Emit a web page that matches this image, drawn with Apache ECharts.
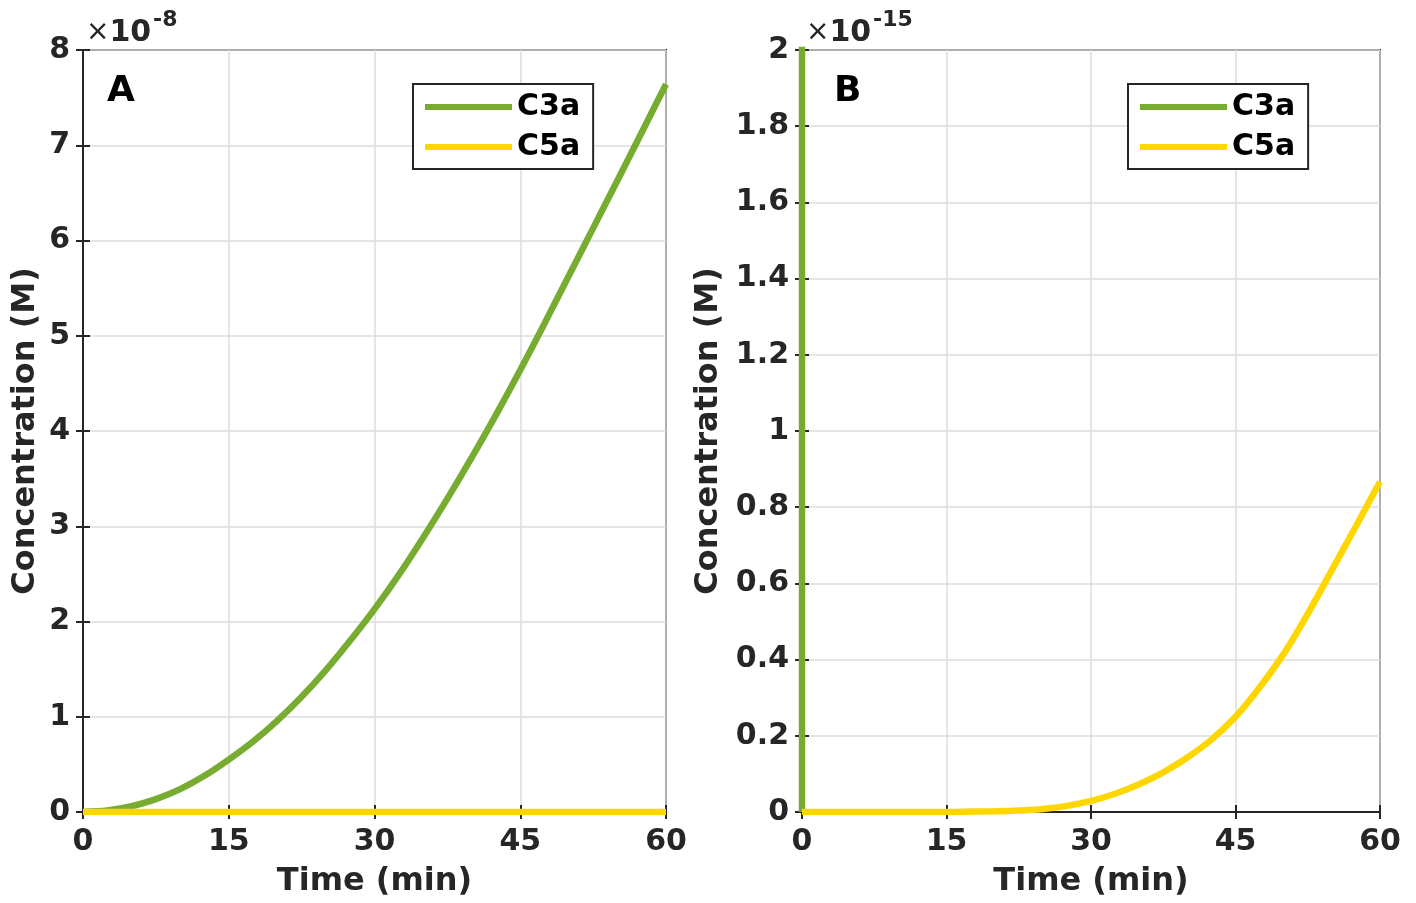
<!DOCTYPE html>
<html>
<head>
<meta charset="utf-8">
<script src="https://cdn.jsdelivr.net/npm/echarts@6/dist/echarts.min.js"></script>
<style>
  html, body { margin: 0; padding: 0; background: #fff; overflow: hidden; width: 100%; height: 100%; }
  #main { width: 100vw; height: 100vh; display: block; }
</style>
</head>
<body>
<div id="main"></div>
<script>
// time axis (min)
var time = [0, 2.5, 5, 7.5, 10, 12.5, 15, 17.5, 20, 22.5, 25, 27.5, 30,
            32.5, 35, 37.5, 40, 42.5, 45, 47.5, 50, 52.5, 55, 57.5, 60];
// C3a, in units of 1e-8 M (panel A)
var c3a = [0, 0.015, 0.06, 0.135, 0.24, 0.38, 0.55, 0.74, 0.96, 1.21, 1.49, 1.80, 2.13,
           2.49, 2.88, 3.29, 3.72, 4.17, 4.64, 5.13, 5.63, 6.13, 6.63, 7.135, 7.64];
// C5a, in units of 1e-15 M (panel B)
var c5a = [0, 0, 0, 0, 0, 0, 0, 0.001, 0.002, 0.004, 0.008, 0.016, 0.029,
           0.048, 0.073, 0.104, 0.143, 0.19, 0.25, 0.327, 0.415, 0.52, 0.635, 0.75, 0.867];

var xTicks = [0, 15, 30, 45, 60];
var yTicksA = [0, 1, 2, 3, 4, 5, 6, 7, 8];
var yTicksB = [0, 0.2, 0.4, 0.6, 0.8, 1, 1.2, 1.4, 1.6, 1.8, 2];

var GREEN = '#77AC30';
var YELLOW = '#FFD700';
var DARK = '#262626';
var FONT = 'DejaVu Sans';

function pairs(xs, ys, scale) {
    return xs.map(function (x, i) { return [x, ys[i] * scale]; });
}

// x axis (bottom) + mirror on top for the box ticks
function xAxes(grid) {
    var base = {
        gridIndex: grid,
        type: 'value',
        min: xTicks[0],
        max: xTicks[xTicks.length - 1],
        interval: xTicks[1] - xTicks[0],
        axisLine: { show: true, lineStyle: { color: DARK, width: 2 } },
        axisTick: { show: true, inside: true, length: 7, lineStyle: { color: DARK, width: 2 } }
    };
    return [
        Object.assign({}, base, {
            position: 'bottom',
            name: 'Time (min)',
            nameLocation: 'middle',
            nameGap: 54,
            nameTextStyle: { fontFamily: FONT, fontWeight: 'bold', fontSize: 32, color: DARK },
            axisLabel: { margin: 15, fontFamily: FONT, fontWeight: 'bold', fontSize: 30, color: DARK },
            splitLine: { show: true, lineStyle: { color: '#dcdcdc', width: 1.5 } }
        }),
        Object.assign({}, base, {
            position: 'top',
            axisLabel: { show: false },
            splitLine: { show: false }
        })
    ];
}

function yAxes(grid, ticks, gap) {
    var base = {
        gridIndex: grid,
        type: 'value',
        min: ticks[0],
        max: ticks[ticks.length - 1],
        interval: ticks[1] - ticks[0],
        axisLine: { show: true, lineStyle: { color: DARK, width: 2 } },
        axisTick: { show: true, inside: true, length: 7, lineStyle: { color: DARK, width: 2 } }
    };
    return [
        Object.assign({}, base, {
            position: 'left',
            name: 'Concentration (M)',
            nameLocation: 'middle',
            nameRotate: 90,
            nameGap: gap,
            nameTextStyle: { fontFamily: FONT, fontWeight: 'bold', fontSize: 32, color: DARK },
            axisLabel: { margin: 13, fontFamily: FONT, fontWeight: 'bold', fontSize: 30, color: DARK },
            splitLine: { show: true, lineStyle: { color: '#dcdcdc', width: 1.5 } }
        }),
        Object.assign({}, base, {
            position: 'right',
            axisLabel: { show: false },
            splitLine: { show: false }
        })
    ];
}

function legend(left) {
    return {
        data: ['C3a', 'C5a'],
        orient: 'vertical',
        left: left,
        top: 84,
        icon: 'rect',
        itemWidth: 87,
        itemHeight: 6,
        itemGap: 10,
        padding: [8, 13, 7, 12],
        borderColor: DARK,
        borderWidth: 2,
        backgroundColor: '#fff',
        selectedMode: false,
        textStyle: { fontFamily: FONT, fontWeight: 'bold', fontSize: 30, lineHeight: 30, color: '#000' }
    };
}

function line(name, grid, data, color, smooth) {
    return {
        name: name,
        type: 'line',
        xAxisIndex: grid * 2,
        yAxisIndex: grid * 2,
        data: data,
        showSymbol: false,
        smooth: smooth,
        color: color,
        lineStyle: { color: color, width: 6.5 },
        animation: false,
        clip: true
    };
}

function exponent(x, sup) {
    return [
        {
            type: 'text', left: x, top: 18,
            style: {
                text: '{m|×}{t|10}',
                rich: {
                    m: { fontFamily: FONT, fontSize: 28, fill: DARK },
                    t: { fontFamily: FONT, fontWeight: 'bold', fontSize: 30, fill: DARK }
                }
            }
        },
        {
            type: 'text', left: x + 67, top: 9,
            style: { text: sup, fontFamily: FONT, fontWeight: 'bold', fontSize: 22, fill: DARK }
        }
    ];
}

var chart = echarts.init(document.getElementById('main'));
chart.setOption({
    backgroundColor: '#fff',
    animation: false,
    grid: [
        { left: 83, right: 750, top: '5.54%', bottom: '9.41%', show: true, borderColor: DARK, borderWidth: 2 },
        { left: 802, right: 36, top: '5.54%', bottom: '9.41%', show: true, borderColor: DARK, borderWidth: 2 }
    ],
    xAxis: xAxes(0).concat(xAxes(1)),
    yAxis: yAxes(0, yTicksA, 41).concat(yAxes(1, yTicksB, 77)),
    legend: [legend(413), legend(1128)],
    series: [
        line('C3a', 0, pairs(time, c3a, 1), GREEN, 0.3),
        line('C5a', 0, pairs(time, c5a, 1e-7), YELLOW, 0.3),
        line('C3a', 1, pairs(time, c3a, 1e7), GREEN, false),
        line('C5a', 1, pairs(time, c5a, 1), YELLOW, 0.3)
    ],
    graphic: [
        { type: 'text', left: 107, top: 74, style: { text: 'A', fontFamily: FONT, fontWeight: 'bold', fontSize: 36, fill: '#000' } },
        { type: 'text', left: 834, top: 74, style: { text: 'B', fontFamily: FONT, fontWeight: 'bold', fontSize: 36, fill: '#000' } }
    ].concat(exponent(86, '-8'), exponent(806, '-15'))
});
</script>
</body>
</html>
